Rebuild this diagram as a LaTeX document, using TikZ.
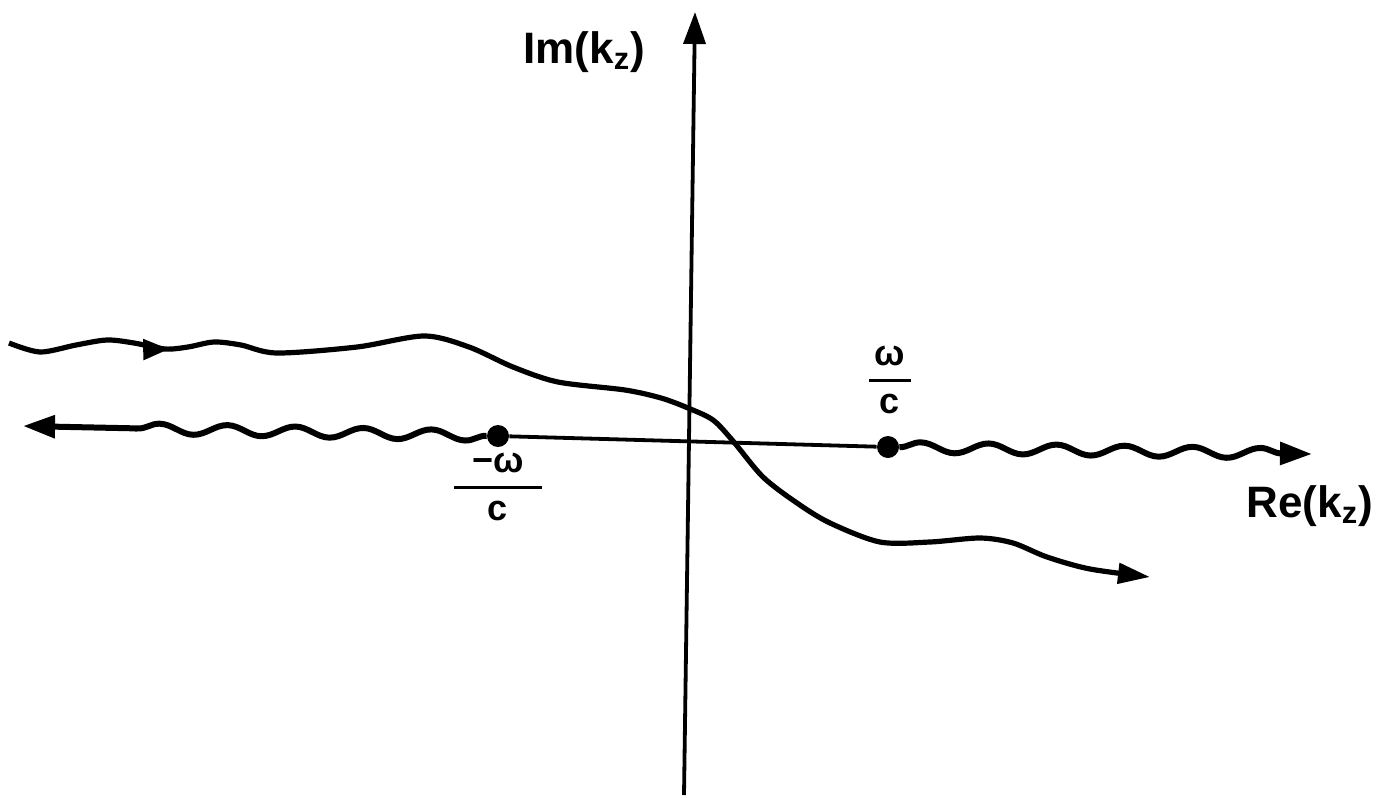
\documentclass[tikz,border=0pt]{standalone}
\usepackage{amsmath}
\usepackage{fontspec}
\setmainfont{Liberation Sans}
\usetikzlibrary{arrows.meta,decorations.pathmorphing,decorations.markings}
\tikzset{
  axis/.style={line width=1.9pt, -{Triangle[length=16pt, width=11pt]}},
  realline/.style={line width=1.9pt},
  cut/.style={line width=3pt, -{Triangle[length=16pt, width=11pt]}, decorate,
    decoration={snake, amplitude=2.6pt, segment length=34pt, post length=#1}},
  contour/.style={line width=2.6pt, -{Triangle[length=16pt, width=10pt]}},
  branchpt/.style={circle, fill=black, inner sep=0pt, minimum size=11pt},
  axislabel/.style={font=\fontsize{22}{26}\selectfont\bfseries, inner sep=0pt},
  fraclabel/.style={font=\fontsize{18}{22}\selectfont\bfseries, inner sep=0pt},
}

\begin{document}
\begin{tikzpicture}[x=0.5pt, y=-0.5pt]
  \useasboundingbox (0,0) rectangle (1398,798);
  % axes
  \coordinate (ibot) at (684,795);
  \coordinate (itop) at (695,12);
  \draw[axis] (ibot) -- (itop);
  \node[axislabel, anchor=base west] (imlbl) at (523,63) {Im(k\textsubscript{z})};
  \node[axislabel, anchor=base west] (relbl) at (1246,517) {Re(k\textsubscript{z})};
  % branch points and cuts
  \node[branchpt] (bl) at (498,436) {};
  \node[branchpt] (br) at (888,447) {};
  \coordinate (ltip) at (23,426);
  \coordinate (rtip) at (1312,454);
  \draw[realline] (bl) -- (br);
  \draw[cut=45pt] (bl) -- (ltip);
  \draw[cut=12pt] (br) -- (rtip);
  \node[fraclabel] (wneg) at (498,487)
    {$\genfrac{}{}{1.9pt}{0}{\makebox[44pt]{−ω}}{\mbox{c}}$};
  \node[fraclabel] (wpos) at (890,380)
    {$\genfrac{}{}{1.9pt}{0}{\makebox[21pt]{ω}}{\mbox{c}}$};
  % contour
  \draw[contour, postaction={decorate}, decoration={markings,
      mark=at position 0.135 with {\arrow{Triangle[length=13pt, width=10pt]}}}]
    plot[smooth] coordinates {(9,343) (40,352) (76,345) (107,340) (134,343)
      (165,349) (188,347) (214,342) (241,345) (277,353) (357,347) (424,336)
      (469,347) (513,367) (558,382) (625,390) (661,398) (688,408) (713,420)
      (733,441) (763,477) (797,503) (830,523) (880,542) (930,542) (980,538)
      (1013,543) (1047,557) (1090,569) (1150,577)};
\end{tikzpicture}
\end{document}
